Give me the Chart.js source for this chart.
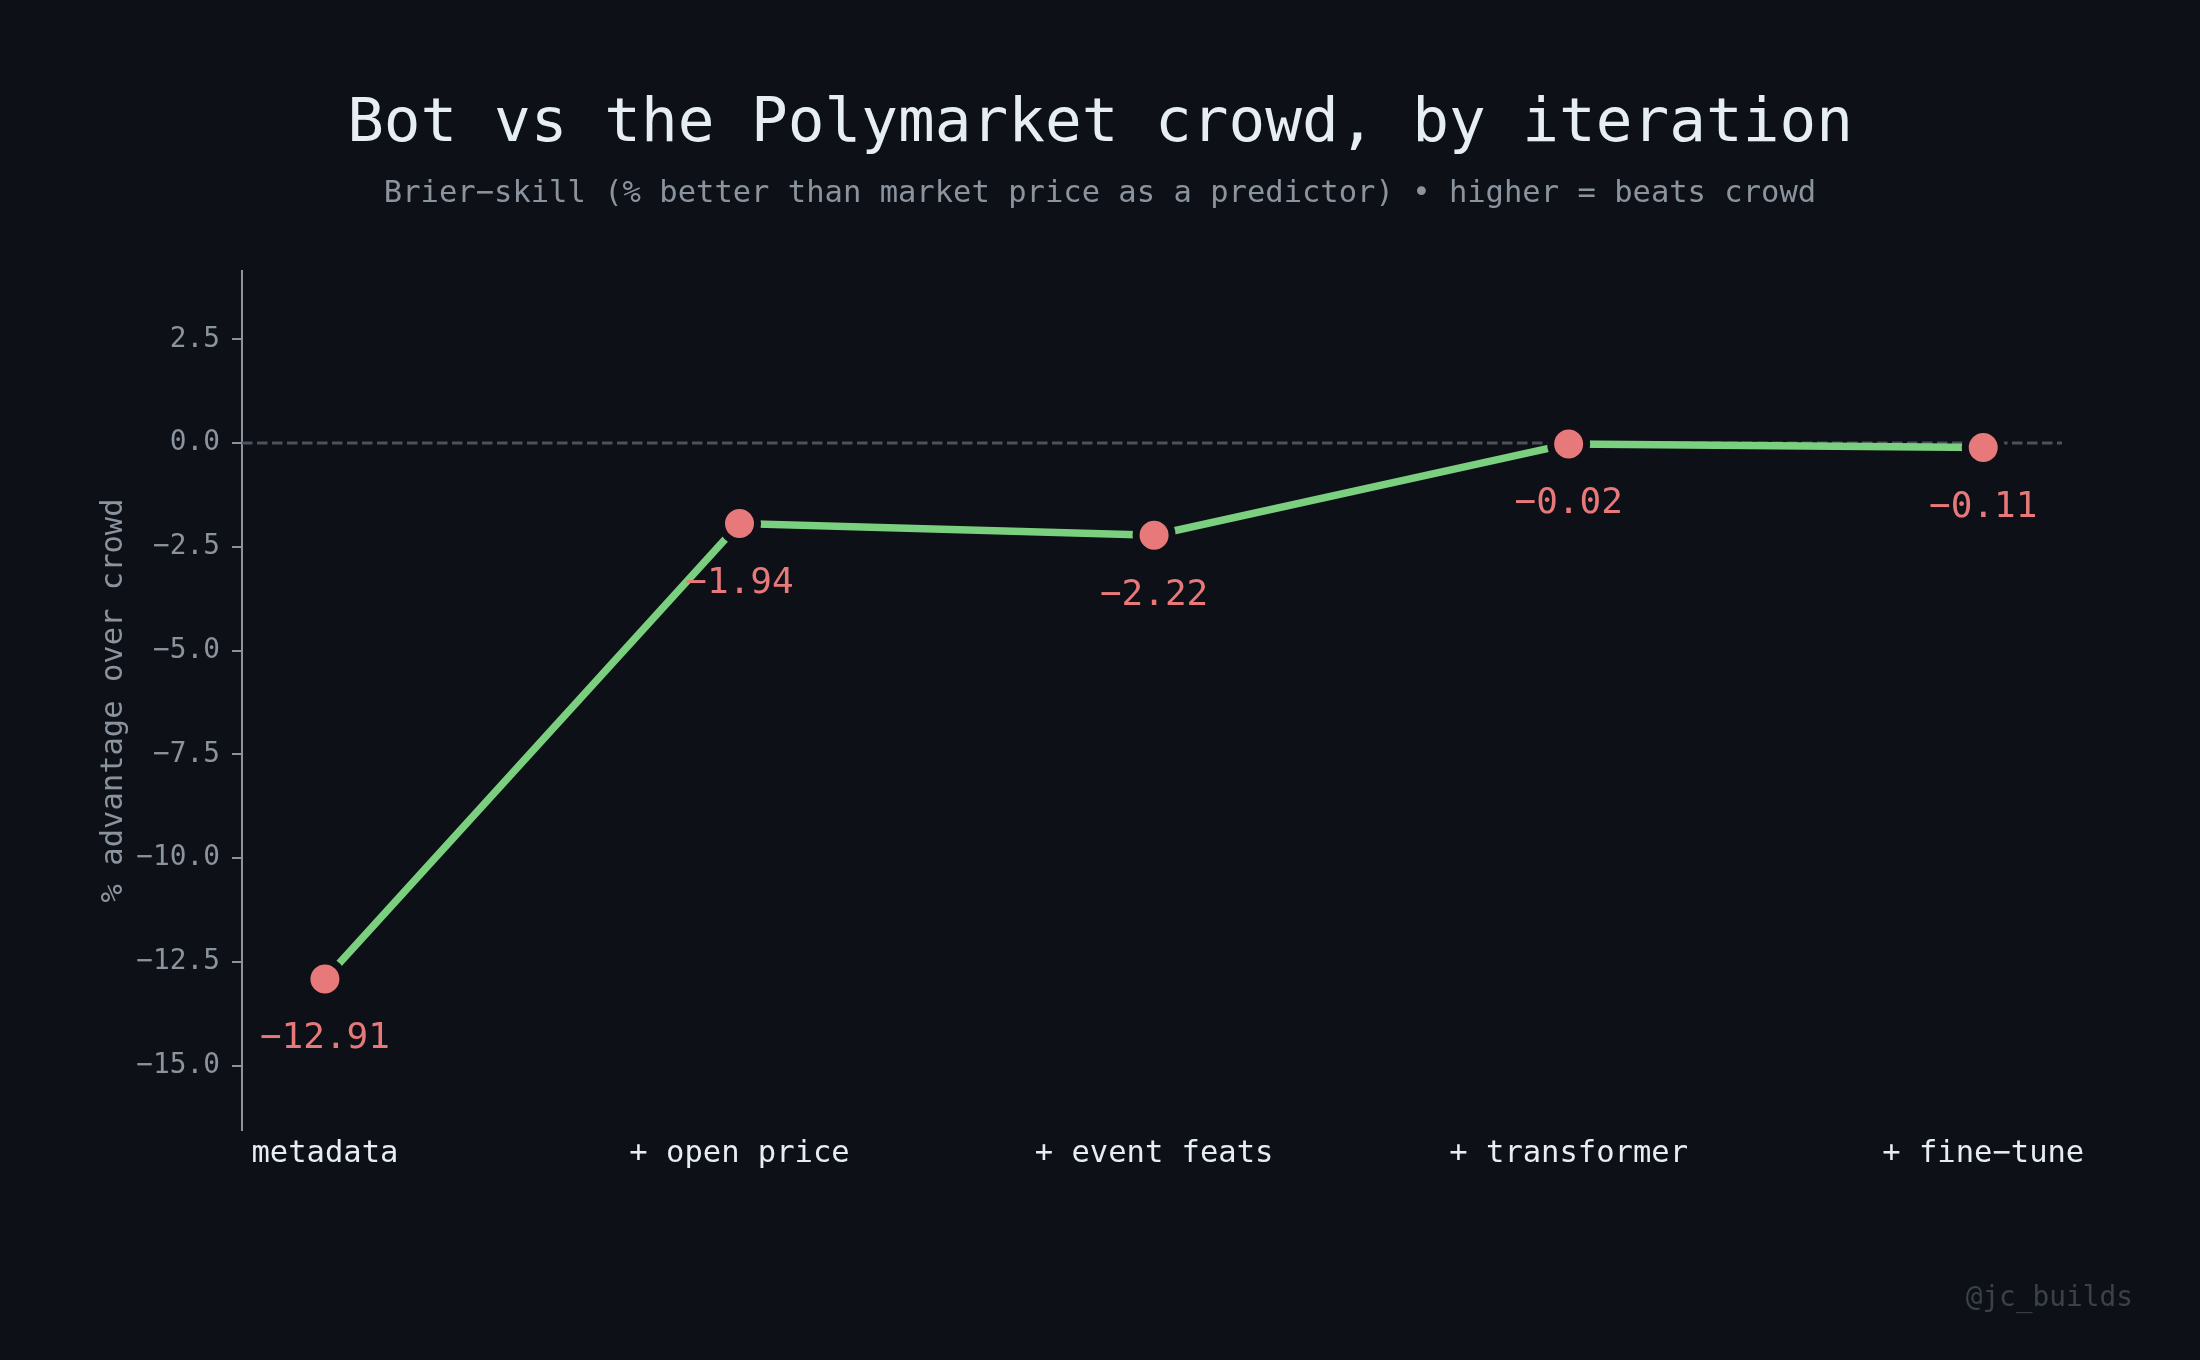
<!doctype html>
<html lang="en">
<head>
    <meta charset="utf-8">
    <title>Bot vs the Polymarket crowd</title>
    <script src="https://cdn.jsdelivr.net/npm/chart.js@4.4.1/dist/chart.umd.min.js"></script>
    <style>
        html, body { margin: 0; padding: 0; background: #0d1117; }
        canvas { display: block; }
    </style>
</head>
<body>
<canvas id="chart" width="2200" height="1360"></canvas>
<script>
    // data
    const stages = ['metadata', '+ open price', '+ event feats', '+ transformer', '+ fine\u2212tune'];
    const skill = [-12.91, -1.94, -2.22, -0.02, -0.11];
    const yTicks = [-15, -12.5, -10, -7.5, -5, -2.5, 0, 2.5];
    const zeroLevel = 0;
    const xMin = -0.2, xMax = 4.19;
    const yMin = -16.55, yMax = 4.15;

    const bg = '#0d1117';
    const mono = "'DejaVu Sans Mono', monospace";
    const minus = v => String(v).replace('-', '\u2212');

    // background + watermark
    const backdrop = {
        id: 'backdrop',
        beforeDraw(chart) {
            const ctx = chart.ctx;
            ctx.save();
            ctx.fillStyle = bg;
            ctx.fillRect(0, 0, chart.width, chart.height);
            ctx.restore();
        },
        afterDraw(chart) {
            const ctx = chart.ctx;
            ctx.save();
            ctx.font = '27.8px ' + mono;
            ctx.fillStyle = '#3b4149';
            ctx.textAlign = 'right';
            ctx.textBaseline = 'middle';
            ctx.fillText('@jc_builds', 2133, 1299);
            ctx.restore();
        }
    };

    // value labels under each point
    const valueLabels = {
        id: 'valueLabels',
        afterDatasetsDraw(chart) {
            const ctx = chart.ctx;
            const meta = chart.getDatasetMeta(1);
            ctx.save();
            ctx.font = '36px ' + mono;
            ctx.fillStyle = '#e8797a';
            ctx.textAlign = 'center';
            ctx.textBaseline = 'middle';
            meta.data.forEach((pt, i) => {
                ctx.fillText(minus(skill[i].toFixed(2)), pt.x, pt.y + 60);
            });
            ctx.restore();
        }
    };

    new Chart(document.getElementById('chart'), {
        type: 'line',
        data: {
            datasets: [{
                // dashed zero reference
                data: [{x: xMin, y: zeroLevel}, {x: xMax, y: zeroLevel}],
                borderColor: '#4b525a',
                borderWidth: 3,
                borderDash: [10.5, 4.5],
                pointRadius: 0,
                order: 2
            }, {
                data: skill.map((v, i) => ({x: i, y: v})),
                borderColor: '#7bd07f',
                borderWidth: 7.5,
                pointRadius: 18,
                pointBackgroundColor: '#e8797a',
                pointBorderColor: bg,
                pointBorderWidth: 7,
                tension: 0,
                order: 1
            }]
        },
        options: {
            responsive: false,
            animation: false,
            devicePixelRatio: 1,
            layout: { padding: 0 },
            plugins: {
                legend: { display: false },
                tooltip: { enabled: false },
                title: {
                    display: true,
                    text: 'Bot vs the Polymarket crowd, by iteration',
                    color: '#e6edf3',
                    font: { family: mono, size: 61, weight: 'normal' },
                    padding: { top: 89, bottom: 14 }
                },
                subtitle: {
                    display: true,
                    text: 'Brier\u2212skill (% better than market price as a predictor) \u2022 higher = beats crowd',
                    color: '#8b949e',
                    font: { family: mono, size: 30.5 },
                    padding: { top: 0, bottom: 58 }
                }
            },
            scales: {
                x: {
                    type: 'linear',
                    min: xMin,
                    max: xMax,
                    afterBuildTicks: s => { s.ticks = stages.map((_, i) => ({value: i})); },
                    afterFit: s => { s.height = 230; },
                    grid: { display: false, drawTicks: false },
                    border: { display: false },
                    ticks: {
                        color: '#e6edf3',
                        font: { family: mono, size: 30.5 },
                        padding: 6,
                        maxRotation: 0,
                        autoSkip: false,
                        callback: v => stages[v]
                    }
                },
                y: {
                    min: yMin,
                    max: yMax,
                    afterBuildTicks: s => { s.ticks = yTicks.map(v => ({value: v})); },
                    afterFit: s => { s.width = 242; },
                    grid: {
                        drawOnChartArea: false,
                        drawTicks: true,
                        tickLength: 10,
                        color: '#8b949e',
                        lineWidth: 2
                    },
                    border: { display: true, color: '#8b949e', width: 2 },
                    ticks: {
                        color: '#8b949e',
                        font: { family: mono, size: 27.8 },
                        padding: 12,
                        callback: v => minus(v.toFixed(1))
                    },
                    title: {
                        display: true,
                        text: '% advantage over crowd',
                        color: '#8b949e',
                        font: { family: mono, size: 30.5 },
                        padding: { top: 96, bottom: 0 }
                    }
                },
                // empty right gutter so the plot ends where the reference does
                gutter: {
                    type: 'linear',
                    position: 'right',
                    display: true,
                    afterFit: s => { s.width = 138; },
                    grid: { display: false, drawTicks: false },
                    border: { display: false },
                    ticks: { display: false }
                }
            }
        },
        plugins: [backdrop, valueLabels]
    });
</script>
</body>
</html>
